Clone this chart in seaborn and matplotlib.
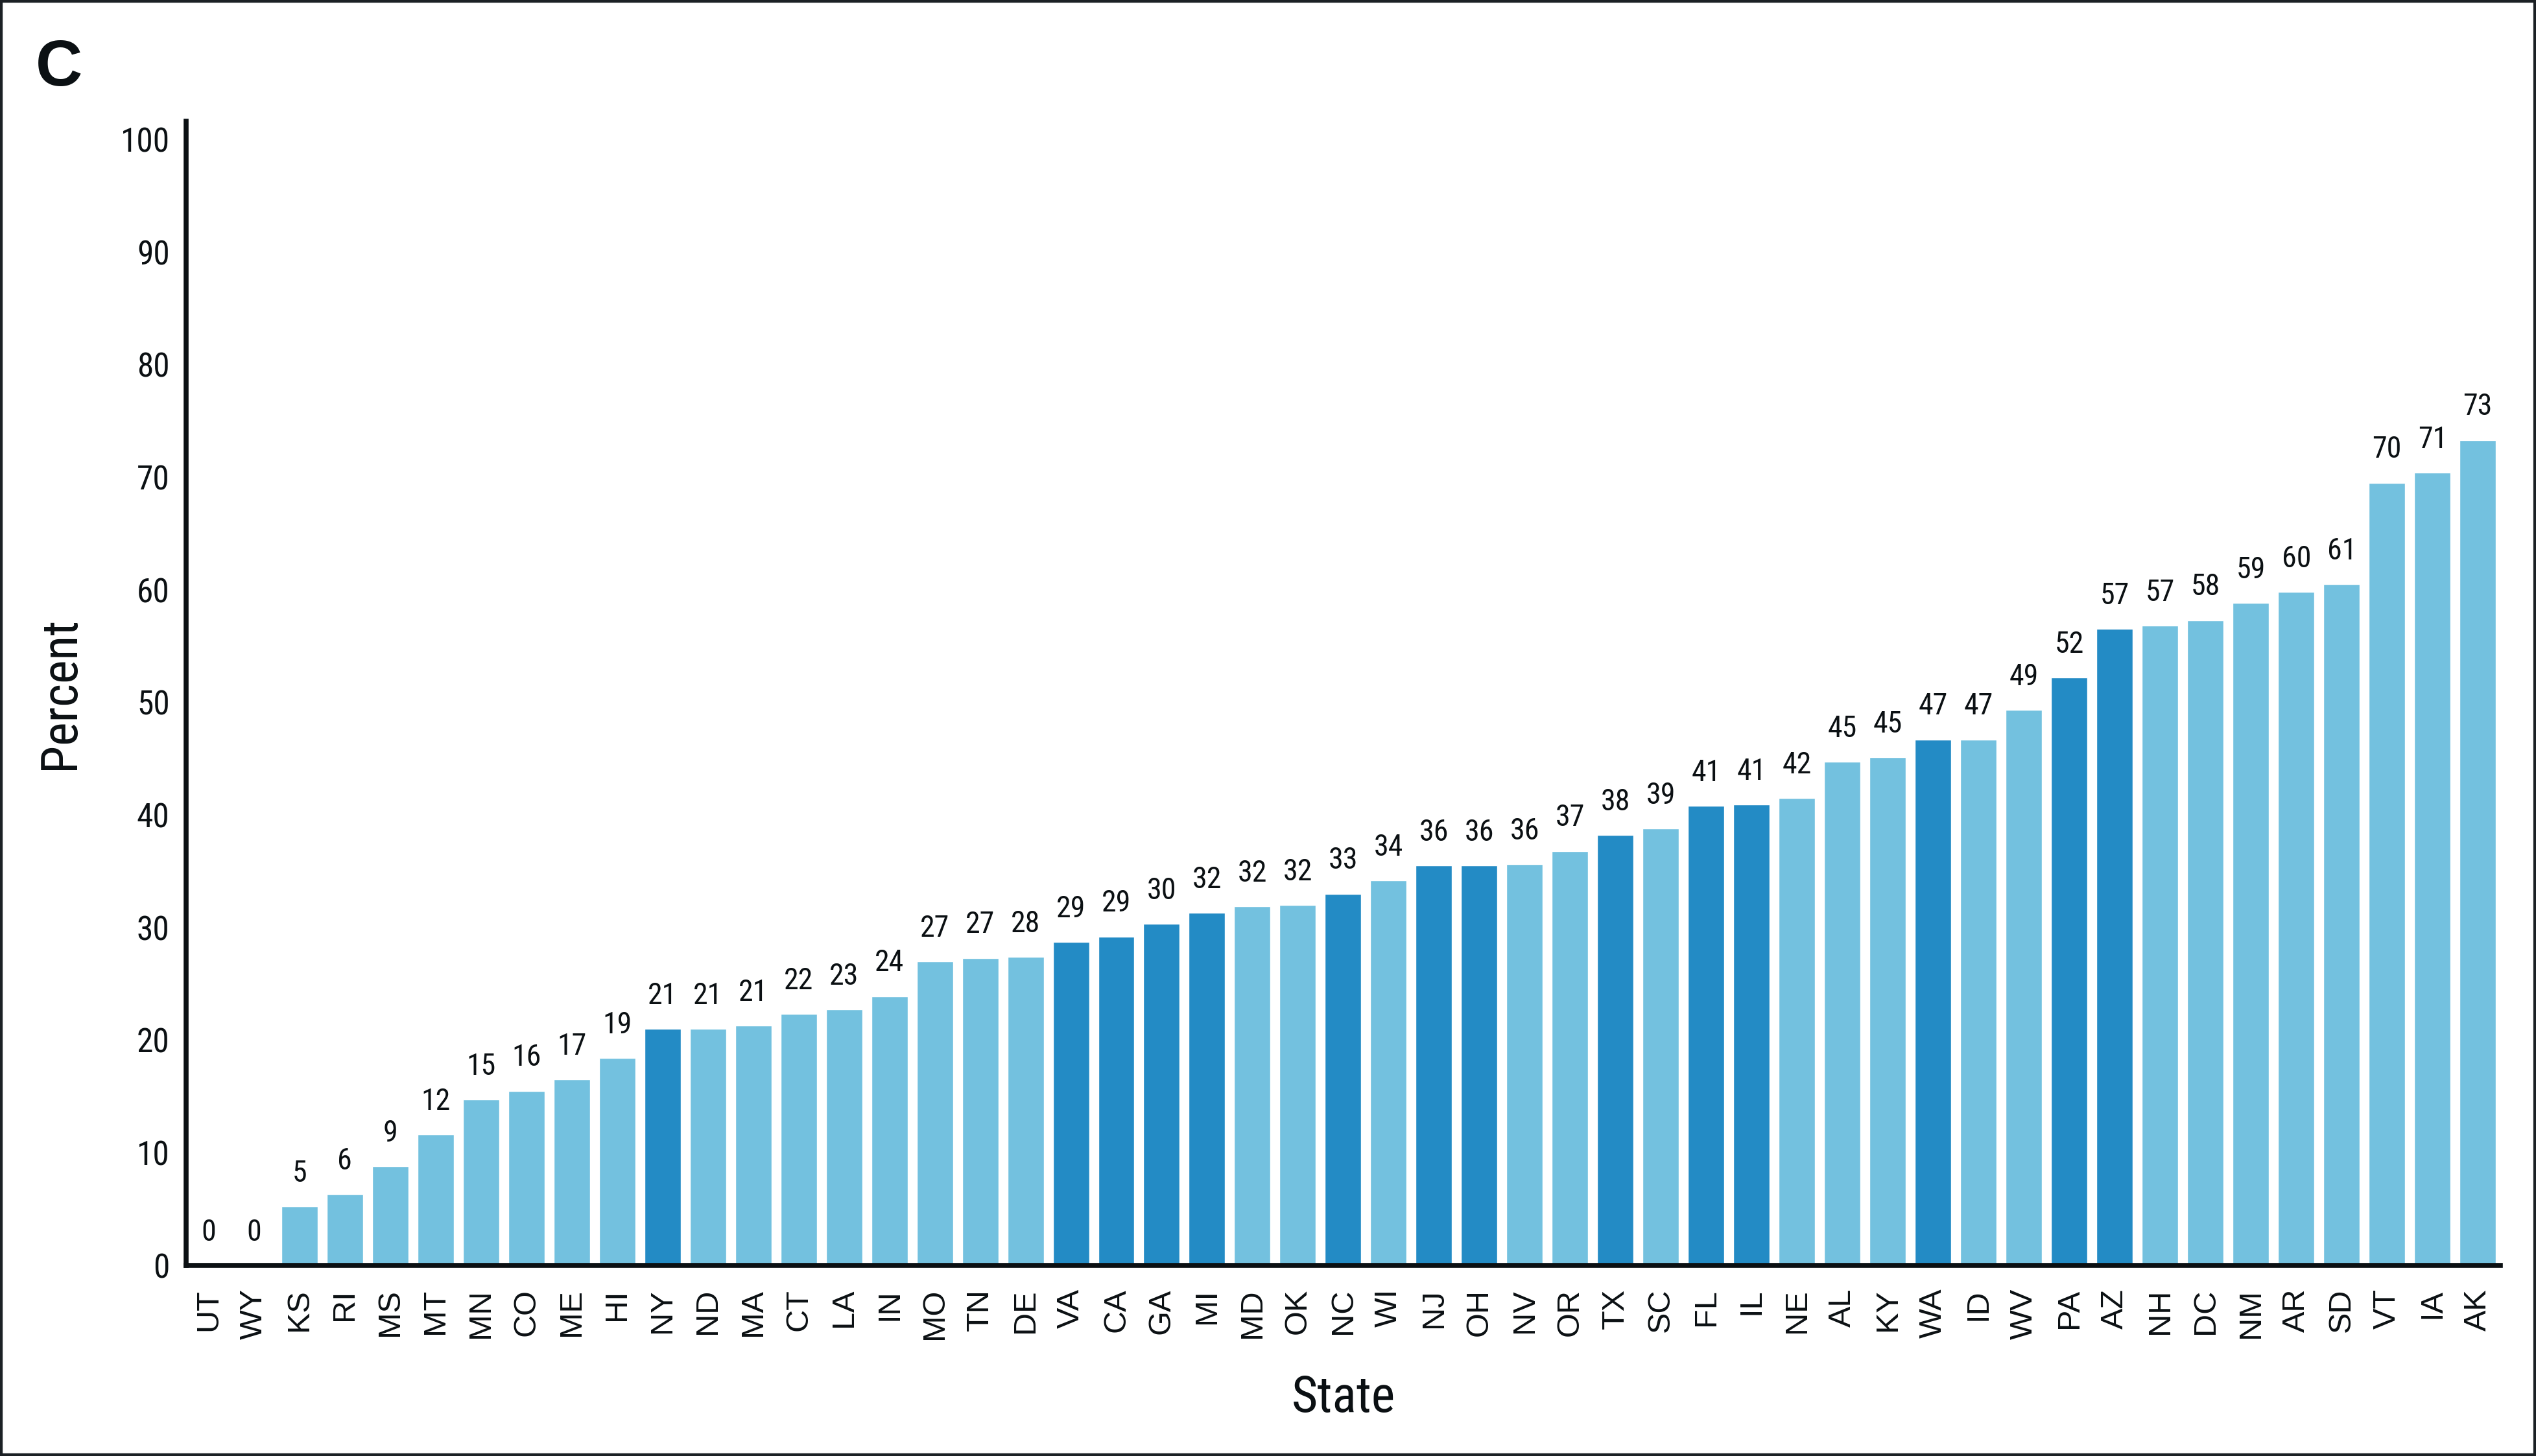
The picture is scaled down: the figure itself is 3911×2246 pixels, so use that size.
import matplotlib
matplotlib.use("Agg")
import matplotlib.pyplot as plt
import pandas as pd
import seaborn as sns

# Données
states = ['UT', 'WY', 'KS', 'RI', 'MS', 'MT', 'MN', 'CO', 'ME', 'HI', 'NY', 'ND', 'MA',
          'CT', 'LA', 'IN', 'MO', 'TN', 'DE', 'VA', 'CA', 'GA', 'MI', 'MD', 'OK', 'NC',
          'WI', 'NJ', 'OH', 'NV', 'OR', 'TX', 'SC', 'FL', 'IL', 'NE', 'AL', 'KY', 'WA',
          'ID', 'WV', 'PA', 'AZ', 'NH', 'DC', 'NM', 'AR', 'SD', 'VT', 'IA', 'AK']
percent = [0, 0, 5.2, 6.3, 8.8, 11.6, 14.7, 15.5, 16.5, 18.4, 21.0, 21.0, 21.3,
           22.3, 22.7, 23.9, 27.0, 27.3, 27.4, 28.7, 29.2, 30.3, 31.3, 31.9, 32.0, 33.0,
           34.2, 35.5, 35.5, 35.6, 36.8, 38.2, 38.8, 40.8, 40.9, 41.5, 44.7, 45.1, 46.7,
           46.7, 49.3, 52.2, 56.5, 56.8, 57.3, 58.8, 59.8, 60.5, 69.5, 70.4, 73.3]
labels = [0, 0, 5, 6, 9, 12, 15, 16, 17, 19, 21, 21, 21,
          22, 23, 24, 27, 27, 28, 29, 29, 30, 32, 32, 32, 33,
          34, 36, 36, 36, 37, 38, 39, 41, 41, 42, 45, 45, 47,
          47, 49, 52, 57, 57, 58, 59, 60, 61, 70, 71, 73]
dark_states = ['NY', 'VA', 'CA', 'GA', 'MI', 'NC', 'NJ', 'OH', 'TX', 'FL', 'IL', 'WA', 'PA', 'AZ']

df = pd.DataFrame({'State': states, 'Percent': percent})
df['Groupe'] = ['fonce' if s in dark_states else 'clair' for s in df['State']]
palette = {'clair': '#73C1DF', 'fonce': '#238BC5'}

sns.set_style('white')
narrow = ['Liberation Sans Narrow', 'Roboto Condensed', 'DejaVu Sans']
wide = ['Liberation Sans', 'DejaVu Sans']
ink = '#0B1013'

fig = plt.figure(figsize=(39.11, 22.46), dpi=100)
ax = fig.add_axes([0.0733, 0.131, 0.9127, 0.7857])

sns.barplot(data=df, x='State', y='Percent', hue='Groupe', palette=palette,
            dodge=False, width=0.8, legend=False, saturation=1, ax=ax)

for i, (v, lab) in enumerate(zip(percent, labels)):
    ax.annotate(str(lab), (i, v), xytext=(0, 21), textcoords='offset points',
                ha='center', va='bottom', fontsize=33, color=ink, family=narrow)

ax.set_xlim(-0.5, 50.5)
ax.set_ylim(0, 101.6)
ax.set_yticks(range(0, 101, 10))
ax.set_yticklabels([str(t) for t in range(0, 101, 10)], fontsize=37, family=narrow, color=ink)
ax.set_xticks(range(len(states)))
ax.set_xticklabels(states, rotation=90, fontsize=35, family=wide, color=ink)
ax.tick_params(axis='both', length=0)
ax.tick_params(axis='x', pad=26)
ax.tick_params(axis='y', pad=18)

ax.set_xlabel('State', fontsize=56, family=narrow, color=ink, labelpad=38)
ax.set_ylabel('Percent', fontsize=56, family=narrow, color=ink, labelpad=40)

sns.despine(ax=ax)
for side in ['left', 'bottom']:
    ax.spines[side].set_linewidth(5.5)
    ax.spines[side].set_color(ink)

fig.text(0.014, 0.953, 'C', fontsize=72, fontweight='bold', family=wide, color=ink,
         va='center', ha='left')

# cadre autour de la figure
fig.patches.append(plt.Rectangle((0, 0), 1, 1, transform=fig.transFigure, fill=False,
                                 edgecolor='#1B2024', linewidth=6))

fig.savefig('out.png', dpi=100)
